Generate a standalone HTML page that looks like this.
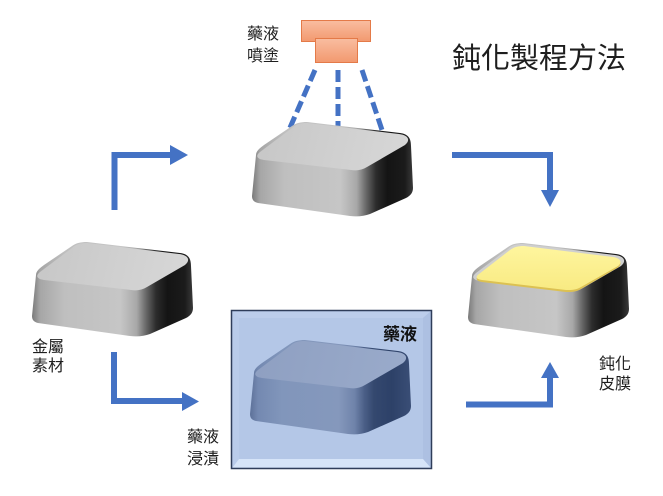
<!DOCTYPE html>
<html>
<head>
<meta charset="utf-8">
<style>
  html,body{margin:0;padding:0;background:#fff;}
  svg{display:block;}
  text{font-family:"Liberation Sans","Noto Sans CJK TC","Noto Sans CJK JP",sans-serif;fill:#1e1e1e;}
</style>
</head>
<body>
<svg width="663" height="496" viewBox="0 0 663 496" xmlns="http://www.w3.org/2000/svg">
  <defs>
    <linearGradient id="gBody" gradientUnits="userSpaceOnUse" x1="0" y1="0" x2="161" y2="0">
      <stop offset="0" stop-color="#7a7a7a"/>
      <stop offset="0.05" stop-color="#a6a6a6"/>
      <stop offset="0.2" stop-color="#bfbfbf"/>
      <stop offset="0.55" stop-color="#c6c6c6"/>
      <stop offset="0.65" stop-color="#a8a8a8"/>
      <stop offset="0.71" stop-color="#666"/>
      <stop offset="0.77" stop-color="#2c2c2c"/>
      <stop offset="0.84" stop-color="#141414"/>
      <stop offset="0.95" stop-color="#1b1b1b"/>
      <stop offset="1" stop-color="#3a3a3a"/>
    </linearGradient>
    <linearGradient id="gTop" gradientUnits="userSpaceOnUse" x1="0" y1="0" x2="160" y2="40">
      <stop offset="0" stop-color="#c6c6c6"/>
      <stop offset="0.5" stop-color="#cfcfcf"/>
      <stop offset="1" stop-color="#d8d8d8"/>
    </linearGradient>
    <linearGradient id="gBodyB" gradientUnits="userSpaceOnUse" x1="0" y1="0" x2="161" y2="0">
      <stop offset="0" stop-color="#5d7199"/>
      <stop offset="0.05" stop-color="#7489b1"/>
      <stop offset="0.2" stop-color="#8196bb"/>
      <stop offset="0.55" stop-color="#8598bc"/>
      <stop offset="0.65" stop-color="#6f83aa"/>
      <stop offset="0.71" stop-color="#4b5f87"/>
      <stop offset="0.77" stop-color="#34486f"/>
      <stop offset="0.88" stop-color="#2d4168"/>
      <stop offset="1" stop-color="#3a4e76"/>
    </linearGradient>
    <linearGradient id="gTopB" gradientUnits="userSpaceOnUse" x1="0" y1="0" x2="160" y2="40">
      <stop offset="0" stop-color="#8e9fc1"/>
      <stop offset="1" stop-color="#9aabcb"/>
    </linearGradient>
    <linearGradient id="gYel" gradientUnits="userSpaceOnUse" x1="0" y1="0" x2="0" y2="48">
      <stop offset="0" stop-color="#fff6a0"/>
      <stop offset="1" stop-color="#f8ea82"/>
    </linearGradient>
    <linearGradient id="gOr" x1="0" y1="0" x2="0" y2="1">
      <stop offset="0" stop-color="#f9bda0"/>
      <stop offset="1" stop-color="#f2996f"/>
    </linearGradient>
  </defs>

  <!-- Title -->
  <text x="452" y="68" font-size="29">鈍化製程方法</text>

  <!-- spray nozzle -->
  <rect x="301.5" y="20.5" width="69" height="21" fill="url(#gOr)" stroke="#e47a48" stroke-width="1"/>
  <rect x="315.5" y="38.5" width="42" height="24" fill="url(#gOr)" stroke="#e47a48" stroke-width="1"/>
  <text x="247" y="39" font-size="16">藥液</text>
  <text x="247" y="61" font-size="16">噴塗</text>

  <!-- spray dashes -->
  <g stroke="#4472c4" stroke-width="5" stroke-dasharray="12 5" fill="none">
    <line x1="315" y1="70" x2="289" y2="130"/>
    <line x1="338" y1="70" x2="338" y2="130"/>
    <line x1="362" y1="70" x2="382" y2="130"/>
  </g>

  <!-- Top block (spray) -->
  <g transform="translate(252,122)">
    <path d="M4,33 C4,29 8,26 12,23 L40,4 C44,1 49,0 55,0 L148,11 C156,12 159,16 159,24 L161,66 C161,71 158,74 154,76 L118,92 C112,94 106,95 98,94 L6,81 C2,80 0,78 0,74 Z" fill="url(#gBody)"/>
    <path d="M8,30 L40,6 C44,2 49,1 55,1 L147,12 C156,13 159,18 153,23 L115,45 C110,48 105,49 99,48 L12,38 C5,37 3,34 8,30 Z" fill="url(#gTop)"/>
  </g>

  <!-- Left block (raw metal) -->
  <g transform="translate(32,242)">
    <path d="M4,33 C4,29 8,26 12,23 L40,4 C44,1 49,0 55,0 L148,11 C156,12 159,16 159,24 L161,66 C161,71 158,74 154,76 L118,92 C112,94 106,95 98,94 L6,81 C2,80 0,78 0,74 Z" fill="url(#gBody)"/>
    <path d="M8,30 L40,6 C44,2 49,1 55,1 L147,12 C156,13 159,18 153,23 L115,45 C110,48 105,49 99,48 L12,38 C5,37 3,34 8,30 Z" fill="url(#gTop)"/>
  </g>
  <text x="32" y="352" font-size="16">金屬</text>
  <text x="32" y="371" font-size="16">素材</text>

  <!-- Blue immersion box -->
  <rect x="231.5" y="310.5" width="200" height="158" fill="#b4c7e7" stroke="#2f3d5a" stroke-width="1.5"/>
  <polygon points="232.5,311.5 430.5,311.5 423,318 239,318" fill="#bccdeb"/>
  <polygon points="232.5,311.5 239,318 239,459 232.5,467.5" fill="#b9cbea"/>
  <polygon points="430.5,311.5 430.5,467.5 423,459 423,318" fill="#adc0e2"/>
  <polygon points="232.5,467.5 239,459 423,459 430.5,467.5" fill="#d6e4f8"/>
  <text x="383" y="340" font-size="17" font-weight="bold" style="fill:#111">藥液</text>

  <g transform="translate(250,340)">
    <path d="M4,33 C4,29 8,26 12,23 L40,4 C44,1 49,0 55,0 L148,11 C156,12 159,16 159,24 L161,66 C161,71 158,74 154,76 L118,92 C112,94 106,95 98,94 L6,81 C2,80 0,78 0,74 Z" fill="url(#gBodyB)"/>
    <path d="M8,30 L40,6 C44,2 49,1 55,1 L147,12 C156,13 159,18 153,23 L115,45 C110,48 105,49 99,48 L12,38 C5,37 3,34 8,30 Z" fill="url(#gTopB)"/>
  </g>
  <text x="187" y="442" font-size="16">藥液</text>
  <text x="187" y="464" font-size="16">浸漬</text>

  <!-- Right block (passivated) -->
  <g transform="translate(468,243)">
    <path d="M4,33 C4,29 8,26 12,23 L40,4 C44,1 49,0 55,0 L148,11 C156,12 159,16 159,24 L161,66 C161,71 158,74 154,76 L118,92 C112,94 106,95 98,94 L6,81 C2,80 0,78 0,74 Z" fill="url(#gBody)"/>
    <path d="M8,30 L40,6 C44,2 49,1 55,1 L147,12 C156,13 159,18 153,23 L115,45 C110,48 105,49 99,48 L12,38 C5,37 3,34 8,30 Z" fill="#cfcfcf"/>
    <path d="M11,32.5 L42,8.5 C46,5.5 50,4.5 56,4.5 L145,15.5 C152,16.5 155,20.5 150,24.5 L113,46 C108,49 104,49 98,49 L14,39 C8,38 7,35.5 11,32.5 Z" fill="#dcc152"/>
    <path d="M11,31 L42,7 C46,4 50,3 56,3 L145,14 C152,15 155,19 150,23 L113,44 C108,47 104,47 98,47 L14,37 C8,36 7,34 11,31 Z" fill="url(#gYel)"/>
  </g>
  <text x="599" y="369" font-size="16">鈍化</text>
  <text x="599" y="389" font-size="16">皮膜</text>

  <!-- Arrows -->
  <g fill="none" stroke="#4472c4" stroke-width="6">
    <polyline points="114.5,210 114.5,155 171,155"/>
    <polyline points="452,155 550,155 550,191"/>
    <polyline points="466,404.5 550,404.5 550,377"/>
    <polyline points="114,352 114,401 183,401"/>
  </g>
  <g fill="#4472c4">
    <polygon points="170,145 188,155 170,165"/>
    <polygon points="541,190 559,190 550,207"/>
    <polygon points="541,378 559,378 550,362"/>
    <polygon points="182,392 199,401.5 182,411"/>
  </g>
</svg>
</body>
</html>
